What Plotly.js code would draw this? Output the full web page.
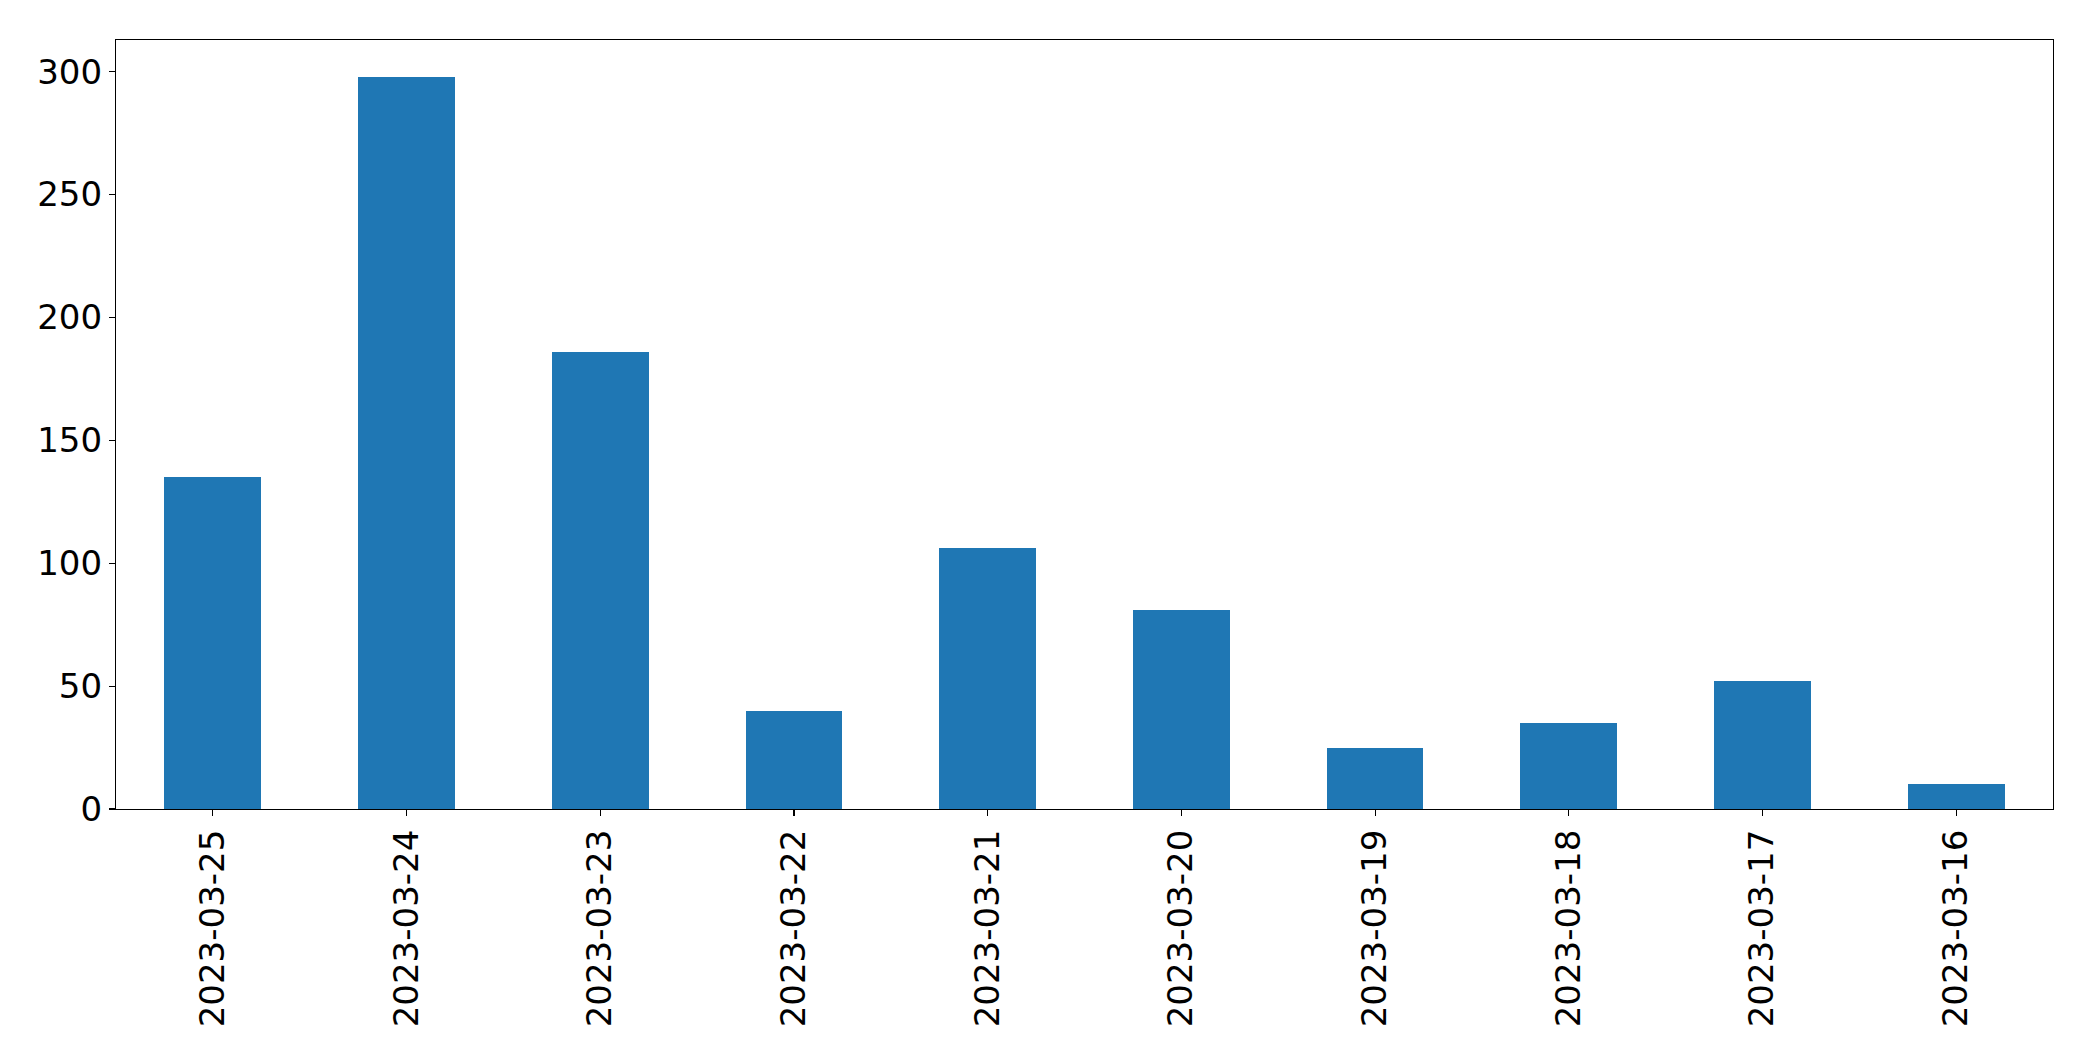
<!DOCTYPE html>
<html>
<head>
<meta charset="utf-8">
<script src="https://cdn.plot.ly/plotly-3.0.1.min.js"></script>
<style>html,body{margin:0;padding:0;background:#fff;}#chart{width:2093px;height:1061px;}</style>
</head>
<body>
<div id="chart"></div>
<script>
const dates = ["2023-03-25","2023-03-24","2023-03-23","2023-03-22","2023-03-21","2023-03-20","2023-03-19","2023-03-18","2023-03-17","2023-03-16"];
const counts = [135, 298, 186, 40, 106, 81, 25, 35, 52, 10];
const yTicks = [0, 50, 100, 150, 200, 250, 300];

const maxVal = Math.max(...counts);
const trace = {
  type: 'bar',
  x: dates,
  y: counts,
  width: 0.5,
  marker: {color: '#1f77b4', line: {width: 0}},
  hoverinfo: 'x+y'
};
const tickFont = {family: 'DejaVu Sans, sans-serif', size: 34, color: '#000'};
const layout = {
  width: 2093,
  height: 1061,
  margin: {l: 116, r: 40, t: 40, b: 252, pad: 0},
  paper_bgcolor: '#fff',
  plot_bgcolor: '#fff',
  showlegend: false,
  bargap: 0,
  xaxis: {
    type: 'category',
    range: [-0.5, dates.length - 0.5],
    tickangle: -90,
    ticks: 'outside',
    ticklen: 6,
    tickwidth: 1.1,
    tickcolor: '#000',
    showline: true,
    linecolor: '#000',
    linewidth: 1.1,
    mirror: true,
    showgrid: false,
    zeroline: false,
    tickfont: tickFont
  },
  yaxis: {
    range: [0, maxVal * 1.05],
    tickvals: yTicks,
    ticktext: yTicks.map(String),
    ticks: 'outside',
    ticklen: 6,
    tickwidth: 1.1,
    tickcolor: '#000',
    showline: true,
    linecolor: '#000',
    linewidth: 1.1,
    mirror: true,
    showgrid: false,
    zeroline: false,
    tickfont: tickFont
  }
};
Plotly.newPlot('chart', [trace], layout, {displayModeBar: false, staticPlot: true});
</script>
</body>
</html>
